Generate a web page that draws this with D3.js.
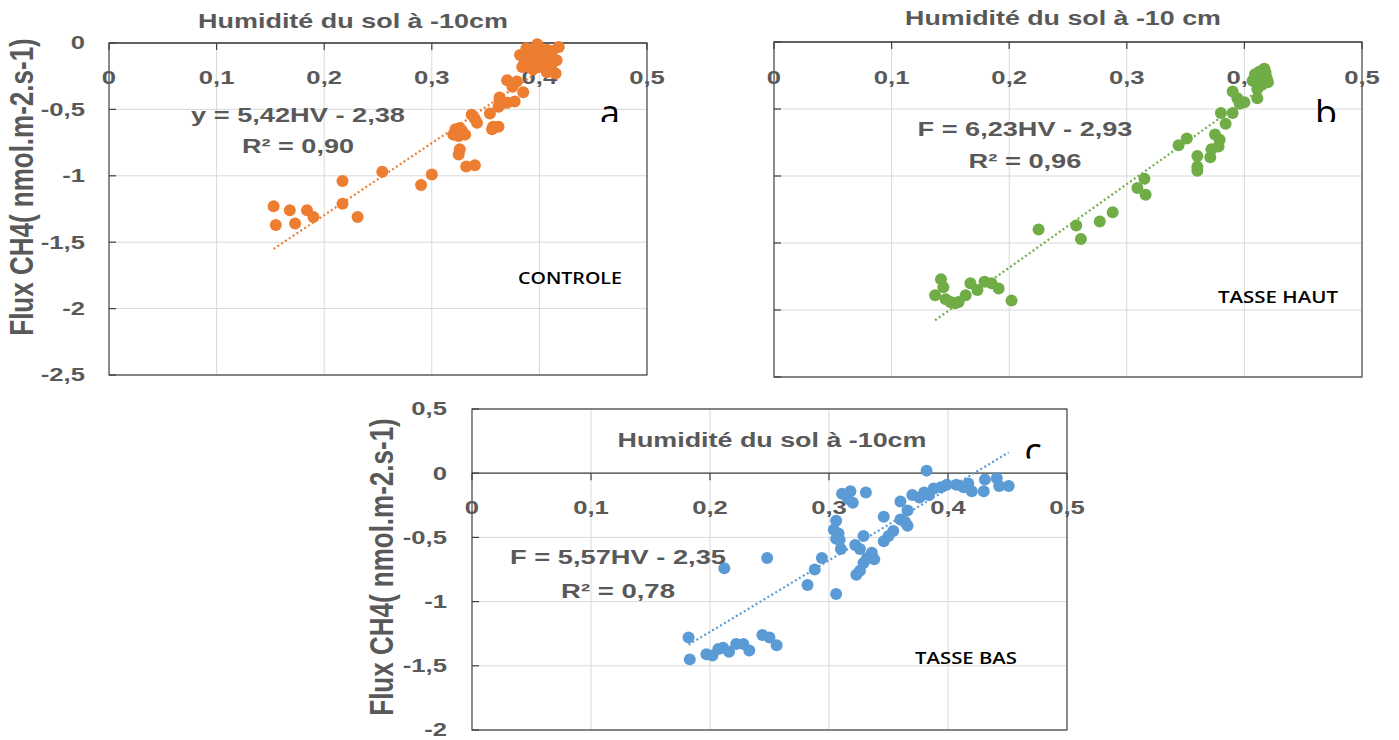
<!DOCTYPE html>
<html><head><meta charset="utf-8">
<script src="https://cdn.jsdelivr.net/npm/d3@7"></script>
<style>body{margin:0;background:#fff}svg{display:block}</style>
</head><body>
<svg id="chart" width="1399" height="740"></svg>
<script>
// ---------- DATA ----------
const hvTicks = [0, 0.1, 0.2, 0.3, 0.4, 0.5];
const hvTickLabels = ["0", "0,1", "0,2", "0,3", "0,4", "0,5"];
const fluxTicksAB = [0, -0.5, -1, -1.5, -2, -2.5];
const fluxTickLabelsAB = ["0", "-0,5", "-1", "-1,5", "-2", "-2,5"];
const fluxTicksC = [0.5, 0, -0.5, -1, -1.5, -2];
const fluxTickLabelsC = ["0,5", "0", "-0,5", "-1", "-1,5", "-2"];

const chartTitles = ["Humidité du sol à -10cm", "Humidité du sol à -10 cm", "Humidité du sol à -10cm"];
const yAxisTitle = "Flux CH4( nmol.m-2.s-1)";
const treatmentNames = ["CONTROLE", "TASSE HAUT", "TASSE BAS"];
const panelLetters = ["a", "b", "c"];
const equations = ["y = 5,42HV - 2,38", "F = 6,23HV - 2,93", "F = 5,57HV - 2,35"];
const rSquared = ["R² = 0,90", "R² = 0,96", "R² = 0,78"];
const slopes = [5.42, 6.23, 5.57];
const intercepts = [-2.38, -2.93, -2.35];

const controleHV = [0.153,0.155,0.168,0.173,0.184,0.190,0.217,0.217,0.231,0.254,0.290,0.300,
  0.320,0.322,0.326,0.328,0.331,0.325,0.326,0.325,0.332,0.340,0.337,0.340,0.342,0.354,0.357,0.362,0.356,
  0.363,0.362,0.367,0.363,0.370,0.377,0.370,0.375,0.379,0.385,
  0.386,0.386,0.399,0.407,0.418,0.416,0.411,0.402,0.393,0.384,0.407,0.415,0.382,0.390,0.400,0.405,0.410,
  0.413,0.396,0.392,0.394,0.398,0.403,0.388,0.408,0.401,0.396,0.412,0.389,0.404];
const controleFlux = [-1.23,-1.37,-1.26,-1.36,-1.26,-1.31,-1.04,-1.21,-1.31,-0.97,-1.07,-0.99,
  -0.69,-0.65,-0.64,-0.66,-0.69,-0.70,-0.80,-0.84,-0.93,-0.92,-0.54,-0.57,-0.60,-0.53,-0.63,-0.63,-0.65,
  -0.41,-0.48,-0.45,-0.43,-0.45,-0.44,-0.28,-0.33,-0.29,-0.37,
  -0.08,-0.15,-0.03,-0.05,-0.03,-0.13,-0.18,-0.18,-0.15,-0.18,-0.22,-0.23,-0.09,-0.18,-0.08,-0.12,-0.10,
  -0.14,-0.14,-0.07,-0.20,-0.01,-0.06,-0.04,-0.17,-0.10,-0.11,-0.06,-0.12,-0.15];

const tasseHautHV = [0.137,0.142,0.144,0.146,0.150,0.154,0.157,0.163,0.167,0.173,0.179,0.185,0.191,0.202,
  0.225,0.257,0.261,0.277,0.288,0.309,0.315,0.316,0.344,0.351,0.360,0.360,0.360,0.371,0.372,0.375,0.379,0.378,
  0.380,0.384,0.390,0.390,0.394,0.396,0.400,0.411,0.411,0.409,0.413,0.417,0.419,0.420,0.407,0.415,0.412,0.418,0.410];
const tasseHautFlux = [-1.89,-1.77,-1.83,-1.92,-1.94,-1.95,-1.94,-1.89,-1.80,-1.85,-1.79,-1.80,-1.84,-1.93,
  -1.40,-1.37,-1.47,-1.34,-1.27,-1.09,-1.02,-1.14,-0.77,-0.72,-0.85,-0.93,-0.96,-0.86,-0.80,-0.69,-0.73,-0.78,
  -0.53,-0.61,-0.53,-0.37,-0.42,-0.46,-0.45,-0.42,-0.35,-0.24,-0.22,-0.20,-0.27,-0.30,-0.29,-0.32,-0.26,-0.23,-0.30];

const tasseBasHV = [0.182,0.183,0.197,0.202,0.207,0.211,0.212,0.216,0.222,0.228,0.233,0.244,0.250,0.248,0.256,
  0.282,0.288,0.294,0.306,0.304,0.306,0.308,0.306,0.310,0.309,0.311,0.318,0.320,0.316,0.331,
  0.322,0.326,0.323,0.326,0.329,0.329,0.332,0.336,0.338,0.346,0.346,0.350,0.354,0.360,0.360,0.364,0.366,0.366,
  0.370,0.376,0.380,0.382,0.384,0.388,0.394,0.399,0.407,0.413,0.417,0.420,0.431,0.430,0.441,0.443,0.451];
const tasseBasFlux = [-1.28,-1.45,-1.41,-1.42,-1.37,-1.36,-0.74,-1.39,-1.33,-1.33,-1.38,-1.26,-1.28,-0.66,-1.34,
  -0.87,-0.75,-0.66,-0.94,-0.44,-0.37,-0.47,-0.51,-0.59,-0.52,-0.16,-0.14,-0.23,-0.20,-0.15,
  -0.56,-0.59,-0.79,-0.76,-0.49,-0.70,-0.66,-0.62,-0.67,-0.34,-0.53,-0.49,-0.45,-0.22,-0.36,-0.38,-0.29,-0.41,
  -0.17,-0.19,-0.15,0.02,-0.17,-0.12,-0.11,-0.09,-0.09,-0.11,-0.08,-0.14,-0.05,-0.14,-0.04,-0.10,-0.10];

// ---------- LAYOUT ----------
const FONT = "'Liberation Sans', Arial, sans-serif";
const GREY = "#595959";
const TICK_SX = 1.35;
const panels = [
  { hv: controleHV, flux: controleFlux, color: "#ED7D31",
    px: [109, 647], py: [43, 375], yDom: [0, -2.5], yTicks: fluxTicksAB, yLabels: fluxTickLabelsAB, showY: true,
    xLabelY: 78, yLabelX: 85, yTitle: {x: 21, y: 187},
    title: {x: 353, y: 21, w: 310}, eq: {x: 298, y: 115, w: 214}, r2: {x: 298, y: 146, w: 112},
    name: {x: 570, y: 277, w: 104}, letter: {x: 610, y: 126, clip: 122} },
  { hv: tasseHautHV, flux: tasseHautFlux, color: "#70AD47",
    px: [774, 1362], py: [42, 377], yDom: [0, -2.5], yTicks: fluxTicksAB, yLabels: fluxTickLabelsAB, showY: false,
    xLabelY: 78,
    title: {x: 1063, y: 18, w: 316}, eq: {x: 1025, y: 129, w: 215}, r2: {x: 1025, y: 161, w: 113},
    name: {x: 1278, y: 297, w: 120}, letter: {x: 1326, y: 126, clip: 122} },
  { hv: tasseBasHV, flux: tasseBasFlux, color: "#5B9BD5",
    px: [472, 1067], py: [409, 730], yDom: [0.5, -2], yTicks: fluxTicksC, yLabels: fluxTickLabelsC, showY: true,
    xLabelY: 508, yLabelX: 447, yTitle: {x: 381, y: 567},
    title: {x: 772, y: 440, w: 309}, eq: {x: 618, y: 557, w: 216}, r2: {x: 618, y: 591, w: 114},
    name: {x: 966, y: 657, w: 102}, letter: {x: 1033, y: 464, clip: 458.5} }
];

const svg = d3.select("#chart");

function txt(g, s, o) {
  const t = g.append("text").text(s)
    .attr("font-family", o.family || FONT)
    .attr("font-size", o.size)
    .attr("font-weight", o.weight || "bold")
    .attr("fill", o.fill || GREY)
    .attr("text-anchor", o.anchor || "middle")
    .attr("dominant-baseline", o.baseline || "central");
  let sx = o.sx || 1;
  if (o.w) sx = o.w / t.node().getComputedTextLength();
  t.attr("transform", `translate(${o.x},${o.y}) scale(${sx},1)` + (o.rotate ? ` rotate(${o.rotate})` : ""));
  return t;
}

panels.forEach((p, i) => {
  const g = svg.append("g");
  const x = d3.scaleLinear().domain([0, 0.5]).range(p.px);
  const y = d3.scaleLinear().domain(p.yDom).range(p.py);
  const top = p.py[0], bot = p.py[1], left = p.px[0], right = p.px[1];

  // gridlines
  g.selectAll(".vg").data(hvTicks.slice(1, -1)).join("line")
    .attr("x1", d => x(d)).attr("x2", d => x(d)).attr("y1", top).attr("y2", bot)
    .attr("stroke", "#d9d9d9").attr("stroke-width", 1);
  g.selectAll(".hg").data(p.yTicks).join("line")
    .attr("x1", left).attr("x2", right).attr("y1", d => y(d)).attr("y2", d => y(d))
    .attr("stroke", "#d9d9d9").attr("stroke-width", 1);

  // frame
  g.append("rect").attr("x", left).attr("y", top).attr("width", right - left).attr("height", bot - top)
    .attr("fill", "none").attr("stroke", "#404040").attr("stroke-width", 1.2);
  // x axis at flux = 0
  g.append("line").attr("x1", left).attr("x2", right).attr("y1", y(0)).attr("y2", y(0))
    .attr("stroke", "#404040").attr("stroke-width", 1.2);

  // ticks
  g.selectAll(".xt").data(hvTicks).join("line")
    .attr("x1", d => x(d)).attr("x2", d => x(d)).attr("y1", y(0)).attr("y2", y(0) + 7)
    .attr("stroke", "#404040").attr("stroke-width", 1.2);
  g.selectAll(".yt").data(p.yTicks).join("line")
    .attr("x1", left).attr("x2", left + 7).attr("y1", d => y(d)).attr("y2", d => y(d))
    .attr("stroke", "#404040").attr("stroke-width", 1.2);

  // tick labels
  hvTicks.forEach((d, k) => txt(g, hvTickLabels[k], {x: x(d), y: p.xLabelY, size: 19, sx: TICK_SX}));
  if (p.showY) {
    p.yTicks.forEach((d, k) => txt(g, p.yLabels[k], {x: p.yLabelX, y: y(d), size: 19, sx: TICK_SX, anchor: "end"}));
    txt(g, yAxisTitle, {x: p.yTitle.x, y: p.yTitle.y, size: 26, sx: 1.3, rotate: -90});
  }

  // trend line
  const ext = d3.extent(p.hv);
  const line = d3.line().x(d => x(d)).y(d => y(slopes[i] * d + intercepts[i]));
  g.append("path").datum(ext).attr("d", line)
    .attr("fill", "none").attr("stroke", p.color).attr("stroke-width", 2.2)
    .attr("stroke-dasharray", "2,2.6");

  // points
  g.selectAll(".pt").data(p.hv.map((h, k) => [h, p.flux[k]])).join("circle")
    .attr("cx", d => x(d[0])).attr("cy", d => y(d[1])).attr("r", 6)
    .attr("fill", p.color);

  // texts
  txt(g, chartTitles[i], {x: p.title.x, y: p.title.y, size: 20, w: p.title.w});
  txt(g, equations[i], {x: p.eq.x, y: p.eq.y, size: 21, w: p.eq.w});
  txt(g, rSquared[i], {x: p.r2.x, y: p.r2.y, size: 21, w: p.r2.w});
  txt(g, treatmentNames[i], {x: p.name.x, y: p.name.y, size: 17, w: p.name.w,
    family: "'Open Sans', sans-serif", weight: 600, fill: "#000"});

  // clipped panel letter
  const cid = "clip" + i;
  svg.append("clipPath").attr("id", cid).append("rect")
    .attr("x", p.letter.x - 40).attr("y", p.letter.clip - 60).attr("width", 80).attr("height", 60);
  g.append("text").text(panelLetters[i])
    .attr("clip-path", `url(#${cid})`)
    .attr("x", p.letter.x).attr("y", p.letter.y)
    .attr("text-anchor", "middle")
    .attr("font-family", "'Open Sans', sans-serif").attr("font-size", 36).attr("fill", "#000");
});
</script>
</body></html>
